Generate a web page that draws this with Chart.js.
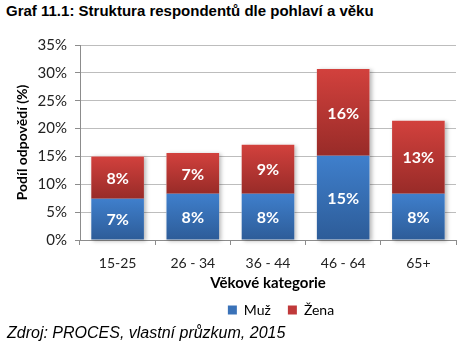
<!DOCTYPE html>
<html>
<head>
<meta charset="utf-8">
<script src="https://cdn.jsdelivr.net/npm/chart.js@4/dist/chart.umd.min.js"></script>
<style>
  html, body { margin: 0; padding: 0; background: #fff; }
  body { width: 463px; height: 350px; position: relative; overflow: hidden; }
  #title { position: absolute; left: 6px; top: 2px; font: bold 15px "Liberation Sans", Arial, sans-serif; color: #000; white-space: nowrap; }
  #source { position: absolute; left: 7px; top: 324px; font: italic 16px "Liberation Sans", Arial, sans-serif; color: #000; white-space: nowrap; }
  #wrap { position: absolute; left: 0; top: 0; width: 463px; height: 350px; }
</style>
</head>
<body>
<div id="title">Graf 11.1: Struktura respondentů dle pohlaví a věku</div>
<div id="wrap"><canvas id="chart" width="463" height="350"></canvas></div>
<div id="source">Zdroj: PROCES, vlastní průzkum, 2015</div>
<script>
// Age groups and share of respondents (%) by sex
const categories = ['15-25', '26 - 34', '36 - 44', '46 - 64', '65+'];
const muz  = [7.4, 8.3, 8.3, 15.1, 8.3];
const zena = [7.6, 7.3, 8.8, 15.6, 13.1];
const yTicks = [0, 5, 10, 15, 20, 25, 30, 35];

const BLUE_TOP = '#3f7fcc', BLUE_BOTTOM = '#2d5c98';
const RED_TOP = '#d2413d', RED_BOTTOM = '#982b28';
const FONT = 'Lato, "Open Sans", sans-serif';

// Vertical gradient per stacked segment, spanning that segment only
function segmentGradient(ctx, topCol, bottomCol, lowerArr, valArr) {
  const chart = ctx.chart;
  if (!chart.chartArea || ctx.dataIndex === undefined) return topCol;
  const y = chart.scales.y;
  const i = ctx.dataIndex;
  const base = lowerArr ? lowerArr[i] : 0;
  const yTop = y.getPixelForValue(base + valArr[i]);
  const yBot = y.getPixelForValue(base);
  const g = chart.ctx.createLinearGradient(0, yTop, 0, yBot);
  g.addColorStop(0, topCol);
  g.addColorStop(1, bottomCol);
  return g;
}

// White percentage labels centred in every segment
const valueLabels = {
  id: 'valueLabels',
  afterDatasetsDraw(chart) {
    const c = chart.ctx;
    c.save();
    c.font = 'bold 16px ' + FONT;
    c.fillStyle = '#ffffff';
    c.textAlign = 'center';
    c.textBaseline = 'middle';
    chart.data.datasets.forEach((ds, di) => {
      chart.getDatasetMeta(di).data.forEach((bar, i) => {
        const p = bar.getProps(['x', 'y', 'base'], true);
        c.fillText(Math.round(ds.data[i]) + '%', p.x, (p.y + p.base) / 2 + 1);
      });
    });
    c.restore();
  }
};

// Soft shadow on the right side of each stacked column
const barShadow = {
  id: 'barShadow',
  beforeDatasetsDraw(chart) {
    const c = chart.ctx;
    const metaTop = chart.getDatasetMeta(1).data;
    const metaBot = chart.getDatasetMeta(0).data;
    c.save();
    c.shadowColor = 'rgba(0,0,0,0.28)';
    c.shadowBlur = 4;
    c.shadowOffsetX = 2;
    c.shadowOffsetY = 1;
    c.fillStyle = '#ffffff';
    metaTop.forEach((bar, i) => {
      const t = bar.getProps(['x', 'y', 'width'], true);
      const b = metaBot[i].getProps(['base'], true);
      c.fillRect(t.x - t.width / 2, t.y, t.width, b.base - t.y);
    });
    c.restore();
  }
};

// Centre the legend under the plot area rather than the whole canvas
const legendOffset = {
  id: 'legendOffset',
  afterLayout(chart) {
    const lg = chart.legend;
    if (!lg) return;
    const dx = 46, dy = -10;
    lg.left += dx; lg.right += dx;
    lg.top += dy; lg.bottom += dy;
  }
};

const tickFont = { family: FONT, size: 14 };

new Chart(document.getElementById('chart'), {
  type: 'bar',
  data: {
    labels: categories,
    datasets: [
      {
        label: 'Muž',
        data: muz,
        backgroundColor: ctx => segmentGradient(ctx, BLUE_TOP, BLUE_BOTTOM, null, muz),
        borderWidth: 0,
        categoryPercentage: 0.7,
        barPercentage: 1.0
      },
      {
        label: 'Žena',
        data: zena,
        backgroundColor: ctx => segmentGradient(ctx, RED_TOP, RED_BOTTOM, muz, zena),
        borderWidth: 0,
        categoryPercentage: 0.7,
        barPercentage: 1.0
      }
    ]
  },
  options: {
    responsive: false,
    animation: false,
    devicePixelRatio: 1,
    layout: { padding: { top: 45, right: 7, bottom: 13, left: 14 } },
    plugins: {
      title: { display: false },
      tooltip: { enabled: false },
      legend: {
        position: 'bottom',
        labels: {
          font: tickFont,
          color: '#222',
          boxWidth: 9,
          boxHeight: 9,
          padding: 17,
          generateLabels: () => [
            { text: 'Muž', fillStyle: '#3a72b8', strokeStyle: '#3a72b8', lineWidth: 0, datasetIndex: 0 },
            { text: 'Žena', fillStyle: '#c0393a', strokeStyle: '#c0393a', lineWidth: 0, datasetIndex: 1 }
          ]
        }
      }
    },
    scales: {
      x: {
        stacked: true,
        afterFit: scale => { scale.height = 56; },
        grid: { display: true, drawOnChartArea: false, offset: true, tickLength: 5, color: '#8c8c8c' },
        border: { color: '#8c8c8c' },
        ticks: { font: tickFont, color: '#222', padding: 10 },
        title: {
          display: true,
          text: 'Věkové kategorie',
          font: { family: FONT, size: 15, weight: 'bold' },
          color: '#000',
          padding: { top: 0, bottom: 4 }
        }
      },
      y: {
        stacked: true,
        min: 0,
        max: 35,
        afterFit: scale => { scale.width = 66; },
        afterBuildTicks: scale => { scale.ticks = yTicks.map(v => ({ value: v })); },
        grid: { color: '#bdbdbd', tickLength: 5, tickColor: '#8c8c8c' },
        border: { color: '#8c8c8c' },
        ticks: { font: { family: FONT, size: 15 }, color: '#222', padding: 8, callback: v => v + '%' },
        title: {
          display: true,
          text: 'Podíl odpovědí (%)',
          font: { family: FONT, size: 14, weight: 'bold' },
          color: '#000',
          padding: { top: 0, bottom: 0 }
        }
      }
    }
  },
  plugins: [barShadow, valueLabels, legendOffset]
});
</script>
</body>
</html>
